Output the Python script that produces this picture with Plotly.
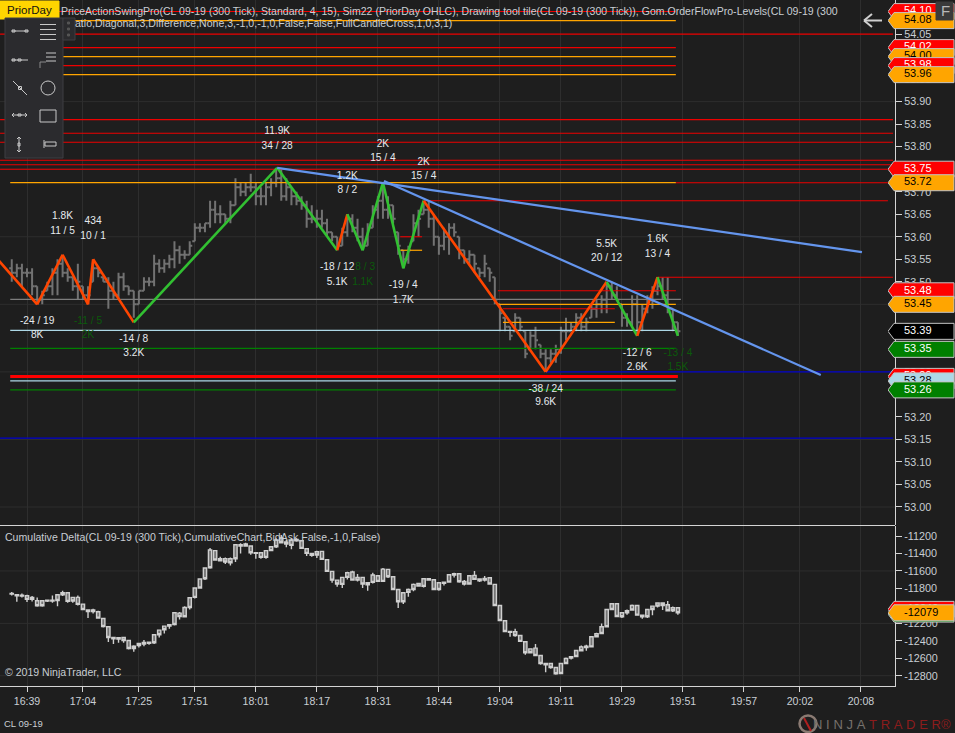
import plotly.graph_objects as go

# bars, numbered from the 16:39 tick
bar_index = list(range(-3, 129))

price_open = [
    53.53, 53.52, 53.53, 53.52, 53.52, 53.49, 53.46, 53.48, 53.49, 53.52,
    53.54, 53.52, 53.51, 53.49, 53.49, 53.47, 53.50, 53.53, 53.51, 53.50,
    53.48, 53.47, 53.51, 53.49, 53.48, 53.45, 53.48, 53.50, 53.50, 53.54,
    53.53, 53.54, 53.55, 53.57, 53.56, 53.56, 53.59, 53.62, 53.62, 53.63,
    53.66, 53.65, 53.65, 53.64, 53.67, 53.71, 53.70, 53.71, 53.71, 53.69,
    53.69, 53.71, 53.72, 53.73, 53.69, 53.71, 53.69, 53.68, 53.67, 53.64,
    53.64, 53.64, 53.63, 53.61, 53.60, 53.58, 53.61, 53.64, 53.62, 53.60,
    53.58, 53.62, 53.66, 53.68, 53.66, 53.67, 53.61, 53.57, 53.55, 53.59,
    53.63, 53.65, 53.66, 53.64, 53.60, 53.58, 53.60, 53.62, 53.60, 53.57,
    53.55, 53.56, 53.53, 53.52, 53.53, 53.51, 53.45, 53.42, 53.40, 53.39,
    53.42, 53.39, 53.35, 53.38, 53.36, 53.34, 53.33, 53.34, 53.35, 53.39,
    53.39, 53.40, 53.42, 53.40, 53.42, 53.44, 53.45, 53.46, 53.49, 53.47,
    53.45, 53.42, 53.41, 53.45, 53.41, 53.44, 53.46, 53.48, 53.49, 53.47,
    53.44, 53.41,
]
price_high = [
    53.55, 53.54, 53.54, 53.53, 53.53, 53.49, 53.48, 53.50, 53.53, 53.55,
    53.56, 53.53, 53.51, 53.54, 53.49, 53.49, 53.55, 53.53, 53.51, 53.51,
    53.50, 53.52, 53.52, 53.49, 53.48, 53.48, 53.51, 53.51, 53.56, 53.55,
    53.55, 53.56, 53.59, 53.58, 53.57, 53.59, 53.63, 53.63, 53.63, 53.68,
    53.68, 53.67, 53.65, 53.68, 53.73, 53.72, 53.72, 53.74, 53.72, 53.71,
    53.72, 53.73, 53.75, 53.75, 53.73, 53.71, 53.70, 53.69, 53.68, 53.67,
    53.66, 53.66, 53.64, 53.61, 53.60, 53.62, 53.65, 53.65, 53.64, 53.62,
    53.63, 53.67, 53.69, 53.72, 53.69, 53.67, 53.61, 53.57, 53.58, 53.65,
    53.66, 53.68, 53.68, 53.65, 53.60, 53.62, 53.63, 53.63, 53.60, 53.57,
    53.57, 53.56, 53.53, 53.56, 53.53, 53.51, 53.45, 53.42, 53.40, 53.43,
    53.42, 53.39, 53.39, 53.40, 53.36, 53.35, 53.35, 53.36, 53.40, 53.42,
    53.41, 53.43, 53.43, 53.42, 53.45, 53.46, 53.47, 53.50, 53.50, 53.49,
    53.45, 53.43, 53.47, 53.47, 53.45, 53.47, 53.49, 53.51, 53.51, 53.51,
    53.44, 53.41,
]
price_low = [
    53.50, 53.51, 53.49, 53.51, 53.47, 53.45, 53.45, 53.48, 53.47, 53.47,
    53.51, 53.50, 53.48, 53.46, 53.46, 53.45, 53.50, 53.51, 53.50, 53.44,
    53.46, 53.46, 53.48, 53.47, 53.42, 53.45, 53.48, 53.49, 53.49, 53.52,
    53.52, 53.53, 53.53, 53.54, 53.55, 53.56, 53.59, 53.61, 53.61, 53.62,
    53.63, 53.63, 53.63, 53.63, 53.67, 53.69, 53.69, 53.70, 53.67, 53.67,
    53.67, 53.69, 53.71, 53.68, 53.68, 53.67, 53.67, 53.66, 53.62, 53.63,
    53.62, 53.62, 53.60, 53.59, 53.57, 53.58, 53.60, 53.61, 53.59, 53.57,
    53.58, 53.62, 53.64, 53.64, 53.64, 53.63, 53.56, 53.53, 53.54, 53.59,
    53.60, 53.65, 53.62, 53.58, 53.56, 53.57, 53.56, 53.60, 53.55, 53.54,
    53.54, 53.52, 53.51, 53.51, 53.50, 53.45, 53.39, 53.39, 53.37, 53.39,
    53.39, 53.33, 53.35, 53.35, 53.33, 53.30, 53.32, 53.32, 53.34, 53.37,
    53.39, 53.39, 53.39, 53.39, 53.42, 53.42, 53.43, 53.43, 53.46, 53.46,
    53.40, 53.40, 53.40, 53.38, 53.39, 53.43, 53.44, 53.47, 53.46, 53.43,
    53.39, 53.38,
]
price_close = [
    53.52, 53.53, 53.52, 53.52, 53.49, 53.46, 53.47, 53.49, 53.52, 53.54,
    53.52, 53.51, 53.49, 53.50, 53.47, 53.47, 53.53, 53.52, 53.50, 53.48,
    53.47, 53.51, 53.49, 53.48, 53.45, 53.48, 53.50, 53.50, 53.54, 53.53,
    53.54, 53.55, 53.57, 53.56, 53.56, 53.58, 53.62, 53.62, 53.63, 53.66,
    53.65, 53.65, 53.64, 53.67, 53.71, 53.70, 53.71, 53.71, 53.69, 53.69,
    53.71, 53.72, 53.73, 53.69, 53.71, 53.69, 53.68, 53.67, 53.64, 53.64,
    53.64, 53.63, 53.61, 53.60, 53.58, 53.61, 53.64, 53.62, 53.60, 53.58,
    53.62, 53.66, 53.68, 53.66, 53.67, 53.64, 53.58, 53.55, 53.57, 53.63,
    53.64, 53.66, 53.64, 53.60, 53.58, 53.60, 53.62, 53.61, 53.57, 53.55,
    53.56, 53.54, 53.52, 53.54, 53.52, 53.46, 53.43, 53.40, 53.38, 53.42,
    53.40, 53.34, 53.38, 53.37, 53.34, 53.33, 53.34, 53.35, 53.39, 53.39,
    53.40, 53.42, 53.40, 53.41, 53.44, 53.45, 53.46, 53.49, 53.47, 53.46,
    53.42, 53.41, 53.45, 53.41, 53.44, 53.46, 53.48, 53.49, 53.47, 53.44,
    53.41, 53.39,
]

delta_open = [
    -11857, -11873, -11877, -11884, -11903, -11941, -11941, -11934, -11934, -11873,
    -11850, -11850, -11903, -11903, -11980, -12048, -12048, -12068, -12144, -12239,
    -12362, -12365, -12362, -12396, -12461, -12430, -12419, -12415, -12331, -12278,
    -12232, -12216, -12079, -12083, -12018, -11907, -11796, -11693, -11567, -11361,
    -11368, -11460, -11460, -11460, -11300, -11300, -11292, -11315, -11391, -11391,
    -11368, -11323, -11246, -11223, -11269, -11246, -11239, -11254, -11346, -11399,
    -11380, -11376, -11472, -11605, -11705, -11674, -11621, -11613, -11674, -11674,
    -11735, -11647, -11655, -11579, -11582, -11666, -11812, -11850, -11812, -11754,
    -11743, -11689, -11689, -11701, -11735, -11728, -11643, -11632, -11632, -11720,
    -11655, -11651, -11693, -11686, -11678, -11754, -11995, -12171, -12293, -12297,
    -12339, -12411, -12492, -12484, -12568, -12660, -12660, -12705, -12660, -12602,
    -12583, -12511, -12469, -12461, -12354, -12320, -12239, -12041, -11976, -11976,
    -12079, -12056, -11995, -11995, -12106, -12041, -12003, -11968, -11968, -11987,
    -12022, -12022,
]
delta_high = [
    -11842, -11865, -11857, -11873, -11888, -11903, -11934, -11926, -11880, -11865,
    -11827, -11842, -11896, -11880, -11972, -12041, -12033, -12056, -12136, -12232,
    -12362, -12362, -12354, -12392, -12450, -12423, -12392, -12407, -12323, -12270,
    -12224, -12209, -12071, -12071, -12003, -11899, -11789, -11686, -11559, -11338,
    -11361, -11437, -11445, -11445, -11292, -11284, -11277, -11307, -11384, -11384,
    -11361, -11315, -11227, -11189, -11246, -11227, -11227, -11246, -11342, -11391,
    -11368, -11368, -11464, -11598, -11697, -11666, -11609, -11598, -11636, -11666,
    -11728, -11621, -11647, -11567, -11575, -11659, -11804, -11842, -11800, -11743,
    -11735, -11682, -11682, -11693, -11728, -11720, -11636, -11621, -11624, -11705,
    -11647, -11601, -11686, -11659, -11670, -11747, -11987, -12163, -12285, -12262,
    -12331, -12404, -12484, -12438, -12560, -12652, -12652, -12698, -12652, -12591,
    -12576, -12503, -12453, -12446, -12346, -12308, -12201, -12033, -11968, -11968,
    -12071, -12041, -11983, -11987, -12098, -12033, -11995, -11961, -11961, -11945,
    -12006, -12014,
]
delta_low = [
    -11880, -11953, -11903, -11957, -11949, -12010, -12010, -11957, -11964, -12003,
    -11888, -11964, -11964, -11995, -12048, -12140, -12087, -12148, -12247, -12415,
    -12438, -12423, -12423, -12499, -12526, -12476, -12461, -12446, -12438, -12362,
    -12316, -12262, -12224, -12155, -12132, -12041, -11915, -11804, -11705, -11575,
    -11483, -11491, -11521, -11537, -11498, -11399, -11323, -11414, -11460, -11460,
    -11460, -11376, -11338, -11284, -11330, -11353, -11265, -11349, -11430, -11437,
    -11452, -11475, -11613, -11735, -11781, -11796, -11697, -11712, -11720, -11796,
    -11827, -11743, -11728, -11728, -11682, -11819, -12025, -11980, -11896, -11834,
    -11781, -11789, -11712, -11819, -11827, -11766, -11735, -11674, -11735, -11766,
    -11758, -11705, -11728, -11720, -11758, -12003, -12174, -12301, -12354, -12354,
    -12415, -12560, -12545, -12576, -12675, -12759, -12721, -12789, -12782, -12667,
    -12614, -12587, -12522, -12514, -12476, -12362, -12323, -12247, -12048, -12129,
    -12140, -12102, -12056, -12113, -12148, -12140, -12106, -12018, -12048, -12064,
    -12071, -12102,
]
delta_close = [
    -11865, -11884, -11888, -11926, -11926, -11999, -11999, -11945, -11945, -11938,
    -11873, -11949, -11945, -11983, -12041, -12064, -12064, -12140, -12236, -12362,
    -12377, -12381, -12396, -12488, -12488, -12453, -12438, -12430, -12423, -12331,
    -12274, -12232, -12213, -12121, -12125, -12018, -11903, -11796, -11689, -11563,
    -11475, -11483, -11498, -11506, -11460, -11315, -11315, -11391, -11399, -11445,
    -11445, -11368, -11323, -11277, -11292, -11307, -11254, -11342, -11399, -11422,
    -11418, -11468, -11605, -11705, -11750, -11754, -11674, -11705, -11705, -11750,
    -11758, -11731, -11720, -11720, -11666, -11812, -11953, -11953, -11846, -11812,
    -11773, -11777, -11705, -11812, -11812, -11743, -11728, -11647, -11724, -11750,
    -11750, -11697, -11712, -11705, -11750, -11995, -12167, -12293, -12304, -12339,
    -12407, -12537, -12537, -12568, -12660, -12675, -12705, -12778, -12774, -12660,
    -12598, -12579, -12514, -12476, -12469, -12354, -12316, -12239, -12041, -12121,
    -12125, -12079, -12048, -12106, -12125, -12125, -12041, -12003, -11995, -12056,
    -12056, -12079,
]

tick_bars = [0, 11, 22, 33, 45, 57, 69, 81, 93, 105, 117, 129, 141, 152, 164]
tick_times = ["16:39", "17:04", "17:25", "17:51", "18:01", "18:17", "18:31", "18:44",
              "19:04", "19:11", "19:29", "19:51", "19:57", "20:02", "20:08"]

price_ticks = [54.05, 54.00, 53.95, 53.90, 53.85, 53.80, 53.75, 53.70, 53.65, 53.60, 53.55, 53.50,
               53.45, 53.40, 53.35, 53.30, 53.25, 53.20, 53.15, 53.10, 53.05, 53.00]
price_tick_text = ["54.05", "54.00", "53.95", "53.90", "53.85", "53.80", "53.75", "53.70", "53.65",
                   "53.60", "53.55", "53.50", "53.45", "53.40", "53.35", "53.30", "53.25", "53.20",
                   "53.15", "53.10", "53.05", "53.00"]
price_grid = [53.90, 53.75, 53.60, 53.45, 53.30, 53.15, 53.00]

delta_ticks = [-11200, -11400, -11600, -11800, -12000, -12200, -12400, -12600, -12800]
delta_tick_text = ["-11200", "-11400", "-11600", "-11800", "-12000", "-12200", "-12400", "-12600", "-12800"]
delta_grid = [-11600, -12200, -12800]

# swing pivots and which way each leg went
swing_bar = [-6, 2, 7, 12, 13, 21, 49.2, 61, 63, 66, 70, 74, 78, 102, 114, 120, 124, 128]
swing_price = [53.553, 53.45, 53.56, 53.45, 53.55, 53.41, 53.753, 53.57, 53.65, 53.57, 53.72,
               53.53, 53.68, 53.30, 53.50, 53.38, 53.51, 53.38]
swing_leg = ["o", "o", "o", "o", "o", "g", "g", "o", "g", "g", "g", "g", "o", "o", "g", "o", "g"]

trend_a_bar = [49.2, 164.2]
trend_a_price = [53.753, 53.566]
trend_b_bar = [70.2, 156.1]
trend_b_price = [53.724, 53.293]

red_price = [54.10, 54.05, 54.02, 53.98, 53.86, 53.83, 53.81, 53.77, 53.76, 53.75, 53.72, 53.68,
             53.51, 53.48, 53.44, 53.60]
red_start = [-3.3, -5.3, -3.3, -3.3, -5.3, -5.3, -5.3, -5.3, -5.3, -5.3, 127.6, 78.3,
             123.9, 92.6, 93.6, 73.4]
red_end = [127.6, 170.3, 127.6, 127.6, 170.3, 170.3, 170.3, 170.3, 170.3, 169.3, 169.3, 169.3,
           170.3, 127.6, 115.6, 77.7]
orange_price = [54.08, 54.00, 53.96, 53.72, 53.45, 53.41, 53.57]
orange_start = [-3.3, -3.3, -3.3, -3.3, 92.6, 93.6, 73.4]
orange_end = [127.6, 127.6, 127.6, 127.6, 127.6, 115.6, 77.7]
grey_price = [53.461]
grey_start = [-3.3]
grey_end = [128.6]
pale_price = [53.392, 53.28]
pale_start = [-3.3, -3.3]
pale_end = [127.6, 127.6]
green_price = [53.352, 53.26]
green_start = [-3.3, -3.3]
green_end = [127.6, 127.6]
navy_price = [53.153, 53.30]
navy_start = [-5.3, 102]
navy_end = [170.3, 170.3]
heavy_price = [53.29]
heavy_start = [-3.3]
heavy_end = [128]

label_text = ["11.9K", "34 / 28", "2K", "15 / 4", "1.2K", "8 / 2", "2K", "15 / 4", "1.8K", "11 / 5",
              "434", "10 / 1", "-24 / 19", "8K", "-14 / 8", "3.2K", "-18 / 12", "5.1K", "-19 / 4",
              "1.7K", "5.5K", "20 / 12", "1.6K", "13 / 4", "-12 / 6", "2.6K", "-38 / 24", "9.6K"]
label_bar = [49.2, 49.2, 70, 70, 63, 63, 78, 78, 7, 7, 13, 13, 2, 2, 21, 21, 61, 61, 74, 74,
             114, 114, 124, 124, 120, 120, 102, 102]
label_price = [53.833, 53.800, 53.804, 53.773, 53.735, 53.702, 53.764, 53.733, 53.645, 53.611,
               53.634, 53.601, 53.413, 53.380, 53.373, 53.340, 53.531, 53.498, 53.491, 53.458,
               53.584, 53.551, 53.593, 53.560, 53.342, 53.309, 53.262, 53.231]
dim_text = ["-11 / 5", "2K", "8 / 3", "1.1K", "-13 / 4", "1.5K"]
dim_bar = [12, 12, 66.5, 66, 128, 128]
dim_price = [53.413, 53.380, 53.531, 53.498, 53.342, 53.309]

tag_price = [54.10, 54.08, 54.02, 54.00, 53.98, 53.96, 53.75, 53.72, 53.48, 53.45, 53.39, 53.35,
             53.29, 53.28, 53.26]
tag_text = ["54.10", "54.08", "54.02", "54.00", "53.98", "53.96", "53.75", "53.72", "53.48", "53.45",
            "53.39", "53.35", "53.29", "53.28", "53.26"]
tag_kind = ["red", "orange", "red", "orange", "red", "orange", "red", "orange", "red", "orange",
            "black", "green", "red", "pale", "green"]
delta_tag_value = [-12040, -12094, -12079]
delta_tag_text = ["-12040", "-12094", "-12079"]
delta_tag_kind = ["red", "green", "orange"]

BG = "#1e1e1e"
GRID = "#2e2e2e"
AXIS = "#d4d4d4"
TEXT = "#c9ced4"
FONT = "Liberation Sans"
W, H = 955, 733
BAR_GREY = "#727272"
SWING = {"o": "#ff4500", "g": "#32c032"}
TAG_FILL = {"red": "#ff0000", "orange": "#ffa500", "black": "#000000", "green": "#008000", "pale": "#add8e6"}
TAG_INK = {"red": "#ffffff", "orange": "#000000", "black": "#ffffff", "green": "#ffffff", "pale": "#000000"}

PRICE_RANGE = [52.96, 54.1257]
DELTA_RANGE = [-12917.5, -11085.5]
BAR_RANGE = [-5.31, 170.7]

fig = go.Figure()

fig.add_trace(go.Ohlc(x=bar_index, open=price_open, high=price_high, low=price_low, close=price_close,
                      increasing_line_color=BAR_GREY, decreasing_line_color=BAR_GREY,
                      line_width=2, tickwidth=0.5, xaxis="x", yaxis="y", hoverinfo="skip"))


def level_lines(prices, starts, ends, color, width):
    for p, a, b in zip(prices, starts, ends):
        fig.add_trace(go.Scatter(x=[a, b], y=[p, p], mode="lines", line=dict(color=color, width=width),
                                 xaxis="x", yaxis="y", hoverinfo="skip"))


level_lines(grey_price, grey_start, grey_end, "#7d7d7d", 1.2)
level_lines(pale_price, pale_start, pale_end, "#add8e6", 1.2)
level_lines(green_price, green_start, green_end, "#008000", 1.2)
level_lines(navy_price, navy_start, navy_end, "#0000cd", 1.2)
level_lines(red_price, red_start, red_end, "#ee0000", 1.1)
level_lines(orange_price, orange_start, orange_end, "#ffa500", 1.2)
level_lines(heavy_price, heavy_start, heavy_end, "#ff0000", 3)

for i, leg in enumerate(swing_leg):
    fig.add_trace(go.Scatter(x=swing_bar[i:i + 2], y=swing_price[i:i + 2], mode="lines",
                             line=dict(color=SWING[leg], width=2.6), xaxis="x", yaxis="y", hoverinfo="skip"))

fig.add_trace(go.Scatter(x=trend_a_bar, y=trend_a_price, mode="lines", line=dict(color="#6495ed", width=2.2),
                         xaxis="x", yaxis="y", hoverinfo="skip"))
fig.add_trace(go.Scatter(x=trend_b_bar, y=trend_b_price, mode="lines", line=dict(color="#6495ed", width=2.2),
                         xaxis="x", yaxis="y", hoverinfo="skip"))

fig.add_trace(go.Scatter(x=label_bar, y=label_price, text=label_text, mode="text", cliponaxis=False,
                         textfont=dict(family=FONT, size=10.2, color="#e6eaee"), xaxis="x", yaxis="y", hoverinfo="skip"))
fig.add_trace(go.Scatter(x=dim_bar, y=dim_price, text=dim_text, mode="text", cliponaxis=False,
                         textfont=dict(family=FONT, size=10.2, color="#0b5a0b"), xaxis="x", yaxis="y", hoverinfo="skip"))

fig.add_trace(go.Candlestick(x=bar_index, open=delta_open, high=delta_high, low=delta_low, close=delta_close,
                             increasing=dict(line=dict(color="#cfcfcf", width=1.4), fillcolor="#757575"),
                             decreasing=dict(line=dict(color="#cfcfcf", width=1.4), fillcolor="#757575"),
                             whiskerwidth=0, xaxis="x2", yaxis="y2", hoverinfo="skip"))


# tags sit in their own strip of axes so each one can cover the one before it
def price_tags(values, texts, kinds, half, xa, ya):
    for v, t, k in zip(values, texts, kinds):
        fig.add_trace(go.Scatter(x=[0, 6, 66, 66, 6, 0], y=[v, v + half, v + half, v - half, v - half, v],
                                 mode="lines", fill="toself", fillcolor=TAG_FILL[k],
                                 line=dict(color="#c4c4c4", width=1), xaxis=xa, yaxis=ya, hoverinfo="skip"))
        fig.add_trace(go.Scatter(x=[16], y=[v], text=[t], mode="text", textposition="middle right",
                                 textfont=dict(family=FONT, size=11, color=TAG_INK[k]),
                                 xaxis=xa, yaxis=ya, hoverinfo="skip"))


price_tags(tag_price, tag_text, tag_kind, 8 / 450.4, "x3", "y3")
price_tags(delta_tag_value, delta_tag_text, delta_tag_kind, 8 * 11.45, "x4", "y4")


def fx(px):
    return px / W


def fy(py):
    return 1 - py / H


shapes = []
for g in price_grid:
    shapes.append(dict(type="line", xref="x domain", yref="y", x0=0, x1=1, y0=g, y1=g, layer="below",
                       line=dict(color=GRID, width=1)))
for g in delta_grid:
    shapes.append(dict(type="line", xref="x domain", yref="y2", x0=0, x1=1, y0=g, y1=g, layer="below",
                       line=dict(color=GRID, width=1)))


def box(x0, y0, x1, y1, fill="rgba(0,0,0,0)", line="#c8c8c8", width=1, kind="rect"):
    shapes.append(dict(type=kind, xref="paper", yref="paper", x0=fx(x0), x1=fx(x1), y0=fy(y0), y1=fy(y1),
                       fillcolor=fill, line=dict(color=line, width=width), layer="above"))


def stroke(x0, y0, x1, y1, color="#c8c8c8", width=1):
    shapes.append(dict(type="line", xref="paper", yref="paper", x0=fx(x0), x1=fx(x1), y0=fy(y0), y1=fy(y1),
                       line=dict(color=color, width=width), layer="above"))


stroke(0, 525.5, 895, 525.5, AXIS, 1.2)

# drawing toolbar
box(0, 1, 59, 19, fill="#ffd500", line="#ffd500")
box(5, 18, 63, 158, fill="#2b2b2e", line="#3e3e42", width=1)
box(63, 18, 75, 40, fill="#2b2b2e", line="#3e3e42", width=1)
for yy in [23, 29, 35]:
    box(67.5, yy - 1, 69.5, yy + 1, fill="#555555", line="#555555")
stroke(12, 31, 28, 31)
box(12, 30, 15, 32)
box(25, 30, 28, 32)
for yy in [24.5, 29.5, 34.5, 39.5]:
    stroke(40, yy, 56, yy)
stroke(12, 60, 28, 60)
box(12, 59, 15, 61)
box(18, 59, 21, 61)
for yy in [53, 57, 61]:
    stroke(46, yy, 56, yy)
stroke(40, 62, 46, 62, "#8a8a8a")
stroke(40, 62, 40, 68, "#8a8a8a")
stroke(13, 81, 27, 95)
box(18.5, 86.5, 21.5, 89.5)
box(41, 81, 55, 95, kind="circle")
stroke(12, 115, 27, 115)
box(18, 114, 21, 116)
stroke(12, 115, 14, 113)
stroke(12, 115, 14, 117)
stroke(27, 115, 25, 113)
stroke(27, 115, 25, 117)
box(40, 110, 56, 122)
stroke(19, 137, 19, 152)
box(18, 143, 20, 146)
stroke(17, 139, 19, 137)
stroke(21, 139, 19, 137)
stroke(17, 150, 19, 152)
stroke(21, 150, 19, 152)
box(45, 142, 56, 146)
stroke(44, 140, 44, 148)
box(936, 2, 953, 20, fill="#3a3a3a", line="#3a3a3a")
# back arrow
stroke(864, 20.5, 882, 20.5, "#d0d0d0", 2)
stroke(864, 20.5, 872, 14, "#d0d0d0", 2)
stroke(864, 20.5, 872, 27, "#d0d0d0", 2)
box(799.5, 715.5, 816.5, 732, line="#8a7a72", width=2.5, kind="circle")
stroke(804, 718, 811, 731, "#b02020", 2)

annotations = []


def note(text, px, py, size=10.55, color=TEXT, anchor="left"):
    annotations.append(dict(text=text, x=fx(px), y=fy(py), xref="paper", yref="paper", showarrow=False,
                            xanchor=anchor, yanchor="middle", font=dict(family=FONT, size=size, color=color)))


note("PriceActionSwingPro(CL 09-19 (300 Tick), Standard, 4, 15), Sim22 (PriorDay OHLC), Drawing tool tile(CL 09-19 "
     "(300 Tick)), Gom.OrderFlowPro-Levels(CL 09-19 (300", 59, 11.5)
note("atio,Diagonal,3,Difference,None,3,-1,0,-1,0,False,False,FullCandleCross,1,0,3,1)", 73, 23.5)
note("Cumulative Delta(CL 09-19 (300 Tick),CumulativeChart,BidAsk,False,-1,0,False)", 3, 537)
note("© 2019 NinjaTrader, LLC", 3, 672)
note("CL 09-19", 2, 723.5, size=9.5)
note("PriorDay", 29.5, 10, size=11.5, color="#111111", anchor="center")
note("F", 945, 11, size=15, color="#b8b8b8", anchor="center")
note('<span style="color:#77716c">N\u2009\u200aI\u2009\u200aN\u2009\u200aJ\u2009\u200aA\u2009\u200a</span>'
     '<span style="color:#8c1c1c">T\u2009\u200aR\u2009\u200aA\u2009\u200aD\u2009\u200aE\u2009\u200aR</span>'
     '<span style="color:#8c1c1c">®</span>', 811, 724, size=13)

x_style = dict(range=BAR_RANGE, domain=[0, 895 / W], tickmode="array", tickvals=tick_bars, showgrid=True,
               gridcolor=GRID, gridwidth=1, zeroline=False, rangeslider=dict(visible=False))

fig.update_layout(
    width=W, height=H, margin=dict(l=0, r=0, t=0, b=0), autosize=False, showlegend=False,
    paper_bgcolor=BG, plot_bgcolor="rgba(0,0,0,0)", font=dict(family=FONT, size=11, color=TEXT),
    shapes=shapes, annotations=annotations, boxgap=0.2, boxgroupgap=0.2,
    xaxis=dict(**x_style, anchor="y", ticktext=[""] * len(tick_bars), ticks=""),
    xaxis2=dict(**x_style, anchor="y2", matches="x", ticktext=tick_times, ticks="outside", ticklen=5,
                tickcolor=AXIS, showline=True, linecolor=AXIS, linewidth=1.2,
                tickfont=dict(family=FONT, size=10.6, color=TEXT)),
    yaxis=dict(domain=[1 - 525 / H, 1], range=PRICE_RANGE, side="right", anchor="x", tickmode="array",
               tickvals=price_ticks, ticktext=price_tick_text, ticks="outside", ticklen=6, tickcolor=AXIS,
               showline=True, linecolor=AXIS, linewidth=1.2, showgrid=False, zeroline=False,
               tickfont=dict(family=FONT, size=10.8, color=TEXT)),
    yaxis2=dict(domain=[1 - 686 / H, 1 - 526 / H], range=DELTA_RANGE, side="right", anchor="x2", tickmode="array",
                tickvals=delta_ticks, ticktext=delta_tick_text, ticks="outside", ticklen=6, tickcolor=AXIS,
                showline=True, linecolor=AXIS, linewidth=1.2, showgrid=False, zeroline=False,
                tickfont=dict(family=FONT, size=10.8, color=TEXT)),
    xaxis3=dict(domain=[888 / W, 1], range=[0, 67], visible=False, anchor="y3"),
    yaxis3=dict(domain=[1 - 525 / H, 1], range=PRICE_RANGE, visible=False, anchor="x3"),
    xaxis4=dict(domain=[888 / W, 1], range=[0, 67], visible=False, anchor="y4"),
    yaxis4=dict(domain=[1 - 686 / H, 1 - 526 / H], range=DELTA_RANGE, visible=False, anchor="x4"),
)

fig.write_html("out.html", config=dict(displayModeBar=False),
               post_script="document.body.style.margin='0';document.body.style.overflow='hidden';")
